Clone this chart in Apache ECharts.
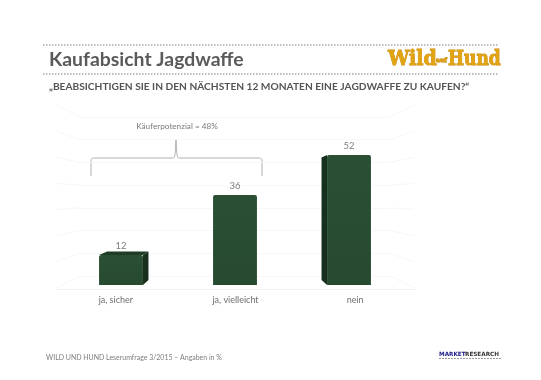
<!DOCTYPE html>
<html><head><meta charset="utf-8">
<style>html,body{margin:0;padding:0;background:#fff}#c{width:541px;height:380px;filter:blur(0.3px)}</style>
<script src="https://cdn.jsdelivr.net/npm/echarts@6/dist/echarts.min.js"></script>
</head><body><div id="c"></div>
<script>
const categories = ['ja, sicher', 'ja, vielleicht', 'nein'];
const values = [12, 36, 52];
const wallTicks = [0, 10, 20, 30, 40, 50, 60, 70];
const titleText = 'Kaufabsicht Jagdwaffe';
const questionText = '„BEABSICHTIGEN SIE IN DEN NÄCHSTEN 12 MONATEN EINE JAGDWAFFE ZU KAUFEN?“';
const braceText = 'Käuferpotenzial = 48%';
const footerText = 'WILD UND HUND Leserumfrage 3/2015 – Angaben in %';

const FF = 'Lato, Carlito, "Open Sans", sans-serif';
const chart = echarts.init(document.getElementById('c'));

function renderBar(params, api) {
  const cs = params.coordSys;
  const top = api.coord([api.value(0), api.value(1)]);
  const base = api.coord([api.value(0), 0]);
  const w = api.size([1, 0])[0] * 0.385;
  const x0 = top[0] - w / 2, x1 = top[0] + w / 2;
  const vx = cs.x + cs.width / 2;
  const vy = api.coord([api.value(0), 35.6])[1];
  const bx = x => vx + (x - vx) * 0.94;
  const by = y => vy + (y - vy) * 0.94;
  const backBase = base[1] - 5;
  const kids = [];
  const shape = (pts, fill) => ({type: 'polygon', shape: {points: pts}, style: {fill: fill}});
  if (top[0] < vx - 1) {
    kids.push(shape([[x1, top[1]], [bx(x1), by(top[1])], [bx(x1), backBase], [x1, base[1]]], '#172f1c'));
  } else if (top[0] > vx + 1) {
    kids.push(shape([[x0, top[1]], [bx(x0), by(top[1])], [bx(x0), backBase], [x0, base[1]]], '#172f1d'));
  }
  if (by(top[1]) < top[1] - 1) {
    kids.push(shape([[x0, top[1]], [bx(x0), by(top[1])], [bx(x1), by(top[1])], [x1, top[1]]], '#1f3d26'));
  }
  kids.push({type: 'rect', shape: {x: x0, y: top[1], width: x1 - x0, height: base[1] - top[1], r: [2, 2, 0, 0]},
    style: {fill: {type: 'linear', x: 0, y: 0, x2: 0, y2: 1, colorStops: [
      {offset: 0, color: '#2a4f32'}, {offset: 1, color: '#274a2f'}]}}});
  kids.push({type: 'text', style: {text: String(api.value(1)), x: top[0], y: top[1] - 9,
    align: 'center', verticalAlign: 'middle', fill: '#7f7f7f', font: '9.5px ' + FF}});
  return {type: 'group', children: kids};
}

function renderDiagonal(params, api) {
  const cs = params.coordSys;
  const y = api.coord([0, api.value(1)])[1];
  const cy = cs.y + cs.height / 2;
  const fy = cy + (y - cy) * 1.15;
  const st = {stroke: '#f7f7f7', lineWidth: 1, fill: null};
  return {type: 'group', children: [
    {type: 'line', shape: {x1: cs.x - 24, y1: fy, x2: cs.x, y2: y}, style: st},
    {type: 'line', shape: {x1: cs.x + cs.width, y1: y, x2: cs.x + cs.width + 24, y2: fy}, style: st}
  ]};
}

const txt = (text, x, y, size, fill, weight, align, sx) => ({
  type: 'text', x: x, y: y, scaleX: sx || 1,
  style: {text: text, fill: fill, align: align || 'left', verticalAlign: 'middle',
    font: (weight || 'normal') + ' ' + size + 'px ' + FF}
});
const dots = (y) => ({type: 'line', shape: {x1: 43, y1: y, x2: 498, y2: y},
  style: {stroke: '#a9a9a9', lineWidth: 1.6, lineDash: [1.5, 1.5]}});
const logo = (text, x, y, size, sy) => ({type: 'text', x: x, y: y, scaleY: sy,
  style: {text: text, fill: '#e3a412', stroke: '#c98a0c', lineWidth: 0.8, verticalAlign: 'middle',
    font: 'bold ' + size + 'px "DejaVu Serif", serif'}});
const mark = (text, x, fill) => ({type: 'text', x: x, y: 354.5,
  style: {text: text, fill: fill, verticalAlign: 'middle', font: 'bold 5.7px "DejaVu Sans", sans-serif'}});
const braceStyle = {fill: null, stroke: '#b0b0b0', lineWidth: 1};
const curve = (x1, y1, cx, cy, x2, y2) => ({type: 'bezierCurve',
  shape: {x1: x1, y1: y1, cpx1: cx, cpy1: cy, cpx2: cx, cpy2: cy, x2: x2, y2: y2}, style: braceStyle});
const seg = (x1, y1, x2, y2) => ({type: 'line', shape: {x1: x1, y1: y1, x2: x2, y2: y2}, style: braceStyle});

chart.setOption({
  backgroundColor: '#fff',
  animation: false,
  grid: [
    {left: 80, right: 151, top: 117, height: 159},
    {left: 56, right: 126, top: 200, height: 89},
    {left: 64, right: 135, top: 135, height: 150}
  ],
  xAxis: [
    {gridIndex: 0, type: 'category', data: ['wall'], show: false},
    {gridIndex: 1, type: 'category', data: categories,
      axisTick: {show: false},
      axisLine: {lineStyle: {color: '#f2f2f2'}},
      axisLabel: {color: '#6f6f6f', fontFamily: FF, fontSize: 9, margin: 7}},
    {gridIndex: 2, type: 'category', data: categories, show: false}
  ],
  yAxis: [
    {gridIndex: 0, type: 'value', min: 0, max: 70, interval: 10,
      axisLine: {show: false}, axisTick: {show: false}, axisLabel: {show: false},
      splitLine: {lineStyle: {color: '#f7f7f7'}}},
    {gridIndex: 1, type: 'value', min: 0, max: 10, show: false, splitLine: {show: false}},
    {gridIndex: 2, type: 'value', min: 0, max: 60, show: false, splitLine: {show: false}}
  ],
  series: [
    {type: 'custom', xAxisIndex: 0, yAxisIndex: 0, clip: false, silent: true, z: 1,
      renderItem: renderDiagonal, data: wallTicks.map(v => ['wall', v])},
    {type: 'custom', xAxisIndex: 2, yAxisIndex: 2, clip: false, silent: true, z: 5,
      renderItem: renderBar, data: values.map((v, i) => [categories[i], v])}
  ],
  graphic: {elements: [
    dots(45), dots(74),
    txt(titleText, 49, 60, 19.4, '#5a5a5a', 'bold'),
    txt(questionText, 49, 87, 10.2, '#555555', 'bold'),
    logo('Wild', 388, 60, 19, 1.05), logo('auf', 436, 60, 6, 1), logo('Hund', 448, 60, 17, 1.15),
    txt(braceText, 177, 126, 8.2, '#7a7a7a', 'normal', 'center'),
    seg(91, 176, 91, 163), curve(91, 163, 91, 158, 97, 158), seg(97, 158, 172, 158),
    curve(172, 158, 175, 158, 176, 140), curve(176, 140, 177, 158, 180, 158), seg(180, 158, 256, 158),
    curve(256, 158, 262, 158, 262, 163), seg(262, 163, 262, 176),
    txt(footerText, 46, 357, 8.4, '#7d7d7d', 'normal', 'left', 0.83),
    mark('MARKET', 439, '#1b1b86'), mark('RESEARCH', 465, '#333333'),
    {type: 'line', shape: {x1: 439, y1: 358.5, x2: 501, y2: 358.5},
      style: {stroke: '#9a9aa6', lineWidth: 1, lineDash: [2, 1]}}
  ]}
});
</script></body></html>
